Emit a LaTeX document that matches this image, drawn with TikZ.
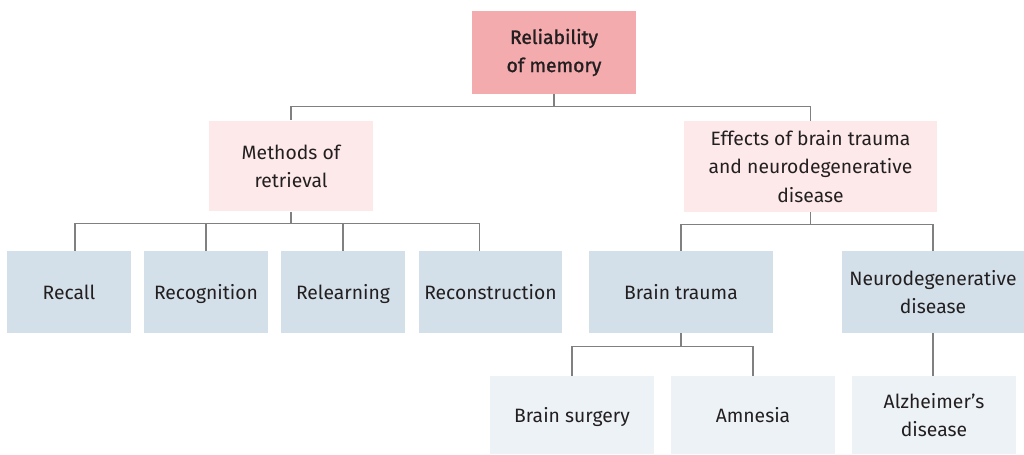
\documentclass[tikz,border=0pt]{standalone}
\usepackage{fontspec}
\setmainfont{Fira Sans}
\newfontfamily\headfont[FakeBold=1.4]{Fira Sans}
\usetikzlibrary{positioning}

\definecolor{rootpink}{HTML}{F4ABAE}
\definecolor{palepink}{HTML}{FDE9EA}
\definecolor{greyblue}{HTML}{D3E0E9}
\definecolor{paleblue}{HTML}{EDF2F6}
\definecolor{inktext}{HTML}{231F20}
\definecolor{linkgrey}{HTML}{808080}

\begin{document}
\begin{tikzpicture}[x=0.02cm, y=-0.02cm,
    box/.style={align=center, text=inktext, inner sep=2pt,
      font=\fontsize{11}{16}\selectfont},
    oneline/.style={text height=8pt, text depth=0pt},
    topbox/.style={box, fill=rootpink, minimum width=3.28cm, minimum height=1.66cm,
      font=\fontsize{11}{16}\selectfont\headfont},
    midbox/.style={box, fill=palepink, minimum height=1.82cm},
    leafbox/.style={box, fill=greyblue, minimum height=1.64cm},
    subbox/.style={box, fill=paleblue, minimum width=3.28cm, minimum height=1.56cm},
    link/.style={draw=linkgrey, line width=0.6pt}]
  \useasboundingbox (0,0) rectangle (1024,454);

  % top of the tree
  \node[topbox] (root) at (554,52.5) {Reliability\\of memory};
  \node[midbox, minimum width=3.28cm] (methods) at (291,166) {Methods of\\retrieval};
  \node[midbox, minimum width=5.06cm] (effects) at (810.5,166.5)
    {Effects of brain trauma\\and neurodegenerative\\disease};

  % retrieval methods
  \node[leafbox, oneline, minimum width=2.48cm] (recall) at (69,292) {Recall};
  \node[leafbox, oneline, minimum width=2.48cm] (recog) at (206,292) {Recognition};
  \node[leafbox, oneline, minimum width=2.48cm] (relearn) at (343,292) {Relearning};
  \node[leafbox, oneline, minimum width=2.86cm] (recon) at (490.5,292) {Reconstruction};

  % trauma and disease
  \node[leafbox, oneline, minimum width=3.68cm] (trauma) at (681,292) {Brain trauma};
  \node[leafbox, minimum width=3.64cm] (neuro) at (933,292) {Neurodegenerative\\disease};
  \node[subbox, oneline] (surgery) at (572,415) {Brain surgery};
  \node[subbox, oneline] (amnesia) at (753,415) {Amnesia};
  \node[subbox] (alz) at (934,415) {Alzheimer’s\\disease};

  % connectors
  \draw[link] (root.south) -- ++(0,12) coordinate (rootbus);
  \draw[link] (methods.north) |- (rootbus) -| (effects.north);

  \draw[link] (methods.south) -- ++(0,12) coordinate (methbus);
  \draw[link] ([xshift=0.12cm]recall.north) |- (methbus) -| ([xshift=-0.22cm]recon.north);
  \foreach \n in {recog, relearn}
    \draw[link] (\n.north) -- (\n.north |- methbus);

  \draw[link] (effects.south) -- ++(0,12) coordinate (effbus);
  \draw[link] (trauma.north) |- (effbus) -| (neuro.north);

  \draw[link] (trauma.south) -- ++(0,13) coordinate (traumabus);
  \draw[link] (surgery.north) |- (traumabus) -| (amnesia.north);

  \draw[link] (neuro.south) -- (neuro.south |- alz.north);
\end{tikzpicture}
\end{document}
